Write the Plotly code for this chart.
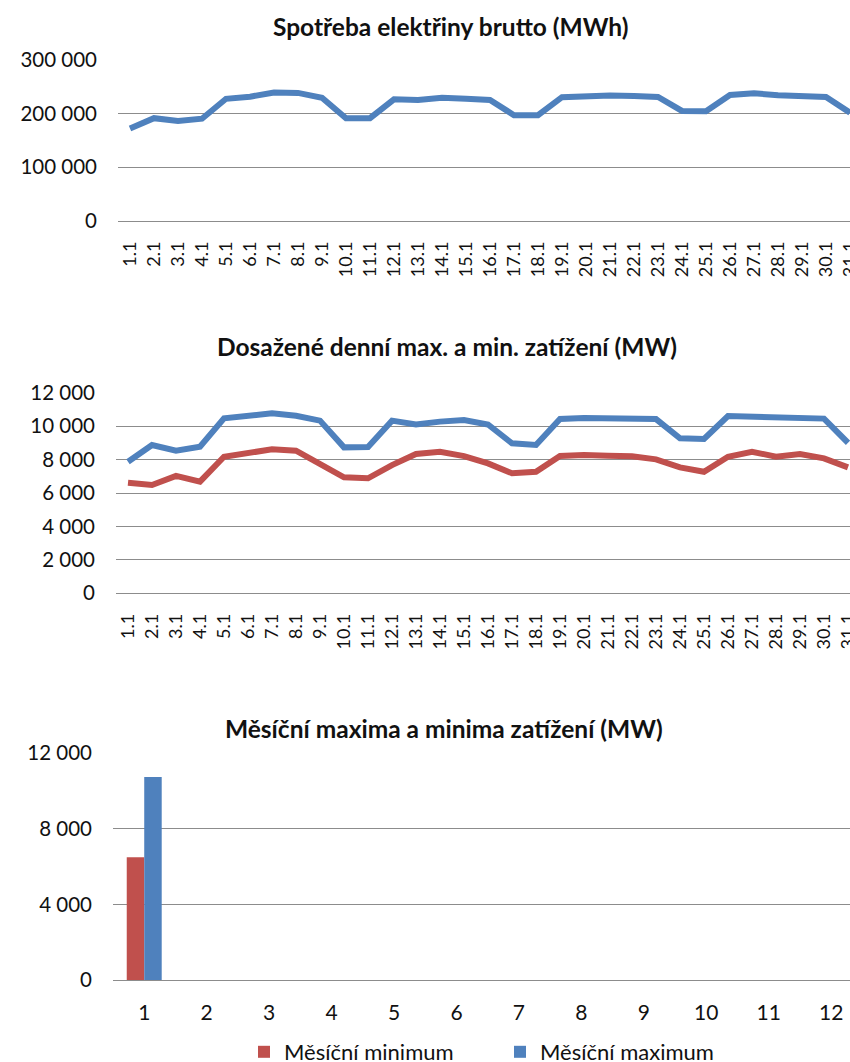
import plotly.graph_objects as go

# Den v lednu
dny = ["1.1", "2.1", "3.1", "4.1", "5.1", "6.1", "7.1", "8.1", "9.1", "10.1",
       "11.1", "12.1", "13.1", "14.1", "15.1", "16.1", "17.1", "18.1", "19.1", "20.1",
       "21.1", "22.1", "23.1", "24.1", "25.1", "26.1", "27.1", "28.1", "29.1", "30.1", "31.1"]

# Spotřeba elektřiny brutto (MWh)
spotreba = [172000, 191000, 186000, 190000, 227000, 231000, 238500, 238000, 229000, 191000,
            191000, 226000, 225000, 229000, 227000, 225000, 196500, 196500, 230000, 232300,
            233000, 232000, 230500, 204500, 204000, 234200, 237300, 233600, 233000, 230500, 201300]

# Denní maximum a minimum zatížení (MW)
denni_max = [7870, 8870, 8530, 8770, 10470, 10600, 10770, 10620, 10330, 8730,
             8750, 10330, 10100, 10270, 10370, 10100, 8970, 8870, 10430, 10480,
             10480, 10450, 10420, 9270, 9230, 10600, 10580, 10550, 10470, 10450, 9000]
denni_min = [6620, 6480, 7020, 6680, 8170, 8430, 8610, 8530, 7770, 6940,
             6880, 7670, 8330, 8470, 8210, 7770, 7180, 7270, 8210, 8270,
             8230, 8200, 8010, 7530, 7270, 8170, 8470, 8170, 8330, 8070, 7530]

# Měsíční maxima a minima zatížení (MW) - zatím jen leden
mesice = ["1", "2", "3", "4", "5", "6", "7", "8", "9", "10", "11", "12"]
mesicni_min = [6500, None, None, None, None, None, None, None, None, None, None, None]
mesicni_max = [10750, None, None, None, None, None, None, None, None, None, None, None]

MODRA = "#4F81BD"
CERVENA = "#C0504D"
MRIZKA = "#8C8C8C"
TEXT = "#111111"
FONT = "Lato"

W, H = 850, 1062

fig = go.Figure()

fig.add_trace(go.Scatter(x=dny, y=spotreba, mode="lines", xaxis="x", yaxis="y",
                         line=dict(color=MODRA, width=6), showlegend=False))
fig.add_trace(go.Scatter(x=dny, y=denni_max, mode="lines", xaxis="x2", yaxis="y2",
                         line=dict(color=MODRA, width=6), showlegend=False))
fig.add_trace(go.Scatter(x=dny, y=denni_min, mode="lines", xaxis="x2", yaxis="y2",
                         line=dict(color=CERVENA, width=6), showlegend=False))
fig.add_trace(go.Bar(x=mesice, y=mesicni_min, name="Měsíční minimum", xaxis="x3", yaxis="y3",
                     marker=dict(color=CERVENA, line=dict(width=0))))
fig.add_trace(go.Bar(x=mesice, y=mesicni_max, name="Měsíční maximum", xaxis="x3", yaxis="y3",
                     marker=dict(color=MODRA, line=dict(width=0))))


def ydom(top_px, bottom_px):
    return [1 - bottom_px / H, 1 - top_px / H]


def x_axis(left_px, ncat, step_px, anchor, angle, size, standoff):
    # the category band runs a little past the right edge of the page
    right_px = left_px + ncat * step_px
    hi = ncat - 0.5 - (right_px - W) / step_px
    return dict(domain=[left_px / W, 1], anchor=anchor, type="category",
                range=[-0.5, hi], showgrid=False, zeroline=False, showline=False,
                ticks="", tickangle=angle, ticklabelstandoff=standoff,
                tickfont=dict(family=FONT, size=size, color=TEXT))


def y_axis(top_px, bottom_px, rng, dtick, anchor):
    return dict(domain=ydom(top_px, bottom_px), anchor=anchor, range=rng, dtick=dtick,
                tickformat=",d", showgrid=True, gridcolor=MRIZKA, gridwidth=1.4,
                zeroline=True, zerolinecolor=MRIZKA, zerolinewidth=1.4,
                showline=False, ticks="", ticklabelstandoff=20,
                tickfont=dict(family=FONT, size=20.5, color=TEXT))


fig.update_layout(
    width=W, height=H,
    margin=dict(l=0, r=0, t=0, b=0, autoexpand=False),
    paper_bgcolor="white", plot_bgcolor="white",
    separators=", ",
    font=dict(family=FONT, color=TEXT),
    xaxis=x_axis(118, 31, 24.0, "y", -90, 18, 16),
    yaxis=y_axis(59.5, 221, [0, 300000], 100000, "x"),
    xaxis2=x_axis(116, 31, 24.0, "y2", -90, 18, 16),
    yaxis2=y_axis(392.7, 593.3, [0, 12000], 2000, "x2"),
    xaxis3=x_axis(113, 12, 62.45, "y3", 0, 21, 18),
    yaxis3=y_axis(753.3, 980, [0, 12000], 4000, "x3"),
    barmode="group", bargap=0.44, bargroupgap=0,
    showlegend=True,
    legend=dict(orientation="h", x=244 / W, xanchor="left", y=1 - 1052 / H, yanchor="middle",
                entrywidth=211, entrywidthmode="pixels",
                font=dict(family=FONT, size=22, color=TEXT), bgcolor="rgba(0,0,0,0)"),
)

nadpisy = [
    ("Spotřeba elektřiny brutto (MWh)", 450, 26),
    ("Dosažené denní max. a min. zatížení (MW)", 447, 347),
    ("Měsíční maxima a minima zatížení (MW)", 444, 728),
]
for text, cx, cy in nadpisy:
    fig.add_annotation(text=f"<b>{text}</b>", xref="paper", yref="paper",
                       x=cx / W, y=1 - cy / H, xanchor="center", yanchor="middle",
                       showarrow=False, font=dict(family=FONT, size=24.5, color=TEXT))

fig.write_html("out.html")
